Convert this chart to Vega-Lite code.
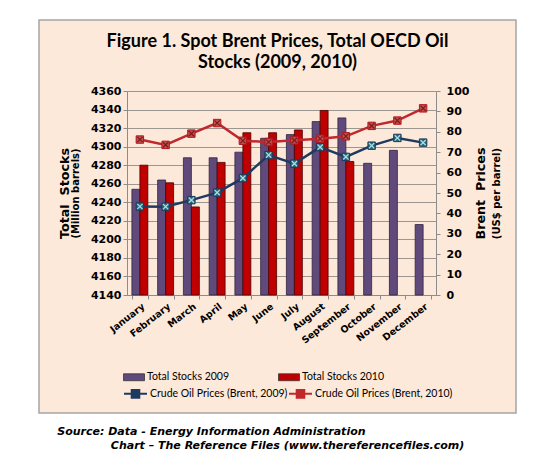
{
  "$schema": "https://vega.github.io/schema/vega-lite/v6.json",
  "padding": {"left": 38, "top": 19, "right": 5, "bottom": 5},
  "background": "white",
  "datasets": {
    "rows": [
      {"month": "January", "year": "2009", "stocks": 4254, "price": 43.4, "stockSeries": "Total Stocks 2009", "priceSeries": "Crude Oil Prices (Brent, 2009)"},
      {"month": "February", "year": "2009", "stocks": 4264, "price": 43.3, "stockSeries": "Total Stocks 2009", "priceSeries": "Crude Oil Prices (Brent, 2009)"},
      {"month": "March", "year": "2009", "stocks": 4288, "price": 46.5, "stockSeries": "Total Stocks 2009", "priceSeries": "Crude Oil Prices (Brent, 2009)"},
      {"month": "April", "year": "2009", "stocks": 4288, "price": 50.2, "stockSeries": "Total Stocks 2009", "priceSeries": "Crude Oil Prices (Brent, 2009)"},
      {"month": "May", "year": "2009", "stocks": 4294, "price": 57.3, "stockSeries": "Total Stocks 2009", "priceSeries": "Crude Oil Prices (Brent, 2009)"},
      {"month": "June", "year": "2009", "stocks": 4309, "price": 68.6, "stockSeries": "Total Stocks 2009", "priceSeries": "Crude Oil Prices (Brent, 2009)"},
      {"month": "July", "year": "2009", "stocks": 4313, "price": 64.4, "stockSeries": "Total Stocks 2009", "priceSeries": "Crude Oil Prices (Brent, 2009)"},
      {"month": "August", "year": "2009", "stocks": 4327, "price": 72.5, "stockSeries": "Total Stocks 2009", "priceSeries": "Crude Oil Prices (Brent, 2009)"},
      {"month": "September", "year": "2009", "stocks": 4331, "price": 67.7, "stockSeries": "Total Stocks 2009", "priceSeries": "Crude Oil Prices (Brent, 2009)"},
      {"month": "October", "year": "2009", "stocks": 4282, "price": 73.2, "stockSeries": "Total Stocks 2009", "priceSeries": "Crude Oil Prices (Brent, 2009)"},
      {"month": "November", "year": "2009", "stocks": 4296, "price": 77.0, "stockSeries": "Total Stocks 2009", "priceSeries": "Crude Oil Prices (Brent, 2009)"},
      {"month": "December", "year": "2009", "stocks": 4216, "price": 74.7, "stockSeries": "Total Stocks 2009", "priceSeries": "Crude Oil Prices (Brent, 2009)"},
      {"month": "January", "year": "2010", "stocks": 4280, "price": 76.2, "stockSeries": "Total Stocks 2010", "priceSeries": "Crude Oil Prices (Brent, 2010)"},
      {"month": "February", "year": "2010", "stocks": 4261, "price": 73.6, "stockSeries": "Total Stocks 2010", "priceSeries": "Crude Oil Prices (Brent, 2010)"},
      {"month": "March", "year": "2010", "stocks": 4235, "price": 79.1, "stockSeries": "Total Stocks 2010", "priceSeries": "Crude Oil Prices (Brent, 2010)"},
      {"month": "April", "year": "2010", "stocks": 4283, "price": 84.3, "stockSeries": "Total Stocks 2010", "priceSeries": "Crude Oil Prices (Brent, 2010)"},
      {"month": "May", "year": "2010", "stocks": 4315, "price": 75.6, "stockSeries": "Total Stocks 2010", "priceSeries": "Crude Oil Prices (Brent, 2010)"},
      {"month": "June", "year": "2010", "stocks": 4315, "price": 75.0, "stockSeries": "Total Stocks 2010", "priceSeries": "Crude Oil Prices (Brent, 2010)"},
      {"month": "July", "year": "2010", "stocks": 4318, "price": 75.8, "stockSeries": "Total Stocks 2010", "priceSeries": "Crude Oil Prices (Brent, 2010)"},
      {"month": "August", "year": "2010", "stocks": 4339, "price": 76.6, "stockSeries": "Total Stocks 2010", "priceSeries": "Crude Oil Prices (Brent, 2010)"},
      {"month": "September", "year": "2010", "stocks": 4284, "price": 77.8, "stockSeries": "Total Stocks 2010", "priceSeries": "Crude Oil Prices (Brent, 2010)"},
      {"month": "October", "year": "2010", "stocks": null, "price": 82.9, "stockSeries": "Total Stocks 2010", "priceSeries": "Crude Oil Prices (Brent, 2010)"},
      {"month": "November", "year": "2010", "stocks": null, "price": 85.5, "stockSeries": "Total Stocks 2010", "priceSeries": "Crude Oil Prices (Brent, 2010)"},
      {"month": "December", "year": "2010", "stocks": null, "price": 91.5, "stockSeries": "Total Stocks 2010", "priceSeries": "Crude Oil Prices (Brent, 2010)"}
    ]
  },
  "title": {
    "text": ["Source:  Data - Energy Information Administration", "\u200d\u00a0\u00a0\u00a0\u00a0\u00a0\u00a0\u00a0\u00a0\u00a0\u00a0\u00a0\u00a0\u00a0\u00a0Chart \u2013 The Reference Files (www.thereferencefiles.com)"],
    "orient": "bottom", "anchor": "start", "font": "DejaVu Sans", "fontStyle": "italic", "fontWeight": "bold",
    "fontSize": 11, "lineHeight": 14, "dx": 19, "offset": 12, "color": "black"
  },
  "vconcat": [
    {
      "width": 477,
      "height": 393,
      "data": {"name": "rows"},
      "title": {
        "text": ["Figure 1. Spot Brent Prices, Total OECD Oil", "Stocks (2009, 2010)"],
        "font": "Lato", "fontSize": 18, "fontWeight": "bold", "lineHeight": 21,
        "anchor": "middle", "offset": -52, "color": "black"
      },
      "encoding": {
        "x": {
          "field": "month", "type": "nominal",
          "sort": ["January","February","March","April","May","June","July","August","September","October","November","December"],
          "scale": {"domain": ["January","February","March","April","May","June","July","August","September","October","November","December"], "range": [88, 397], "paddingInner": 0.38, "paddingOuter": 0.19},
          "axis": {
            "orient": "bottom", "offset": -118, "title": null, "labelAngle": -38,
            "labelFont": "DejaVu Sans", "labelFontWeight": "bold", "labelFontSize": 9.5, "labelColor": "black",
            "tickBand": "extent", "tickSize": 4, "tickColor": "#8c8c8c", "domainColor": "#8c8c8c",
            "grid": false, "labelPadding": 2
          }
        }
      },
      "layer": [
        {
          "transform": [{"filter": "datum.year == '2009' && isValid(datum.stocks)"}],
          "mark": {"type": "bar", "stroke": "#2e2440", "strokeWidth": 0.8},
          "encoding": {
            "xOffset": {"field": "year", "type": "nominal", "scale": {"domain": ["2009", "2010"], "paddingInner": 0, "paddingOuter": 0}},
            "y": {
              "field": "stocks", "type": "quantitative",
              "scale": {"domain": [4140, 4360], "range": [275, 71], "zero": false, "nice": false},
              "axis": {
                "orient": "left", "offset": -88, "format": "d",
                "values": [4140,4160,4180,4200,4220,4240,4260,4280,4300,4320,4340,4360],
                "title": "Total\u00a0 Stocks", "titleFont": "DejaVu Sans", "titleFontSize": 12.7, "titleFontWeight": "bold", "titleColor": "black", "titlePadding": 19,
                "labelFont": "DejaVu Sans", "labelFontSize": 11, "labelFontWeight": "bold", "labelColor": "black",
                "tickSize": 4, "labelPadding": 2, "grid": true, "gridColor": "#9c9590", "gridWidth": 1,
                "domainColor": "#8c8c8c", "tickColor": "#8c8c8c"
              }
            },
            "y2": {"datum": 4140},
            "fill": {
              "field": "stockSeries", "type": "nominal",
              "scale": {"domain": ["Total Stocks 2009", "Total Stocks 2010"], "range": ["#604a7b", "#c00000"]},
              "legend": {
                "title": null, "orient": "none", "legendX": 84, "legendY": 346, "direction": "horizontal", "columns": 2, "columnPadding": 46,
                "symbolType": "M-1,-0.33L1,-0.33L1,0.33L-1,0.33Z", "symbolSize": 441, "symbolStrokeWidth": 0.8, "symbolStrokeColor": "#333333",
                "labelFont": "Lato", "labelFontSize": 10.5, "labelColor": "black", "labelOffset": 2
              }
            }
          }
        },
        {
          "transform": [{"filter": "datum.year == '2010' && isValid(datum.stocks)"}],
          "mark": {"type": "bar", "stroke": "#4a0000", "strokeWidth": 0.8},
          "encoding": {
            "xOffset": {"field": "year", "type": "nominal", "scale": {"domain": ["2009", "2010"], "paddingInner": 0, "paddingOuter": 0}},
            "y": {
              "field": "stocks", "type": "quantitative",
              "scale": {"domain": [4140, 4360], "range": [275, 71], "zero": false, "nice": false},
              "axis": {
                "orient": "left", "offset": -88, "labels": false, "ticks": false, "domain": false, "grid": false,
                "title": "(Million barrels)", "titleFont": "DejaVu Sans", "titleFontSize": 10, "titleFontWeight": "bold", "titleColor": "black", "titlePadding": 47
              }
            },
            "y2": {"datum": 4140},
            "fill": {
              "field": "stockSeries", "type": "nominal",
              "scale": {"domain": ["Total Stocks 2009", "Total Stocks 2010"], "range": ["#604a7b", "#c00000"]},
              "legend": {
                "title": null, "orient": "none", "legendX": 84, "legendY": 346, "direction": "horizontal", "columns": 2, "columnPadding": 46,
                "symbolType": "M-1,-0.33L1,-0.33L1,0.33L-1,0.33Z", "symbolSize": 441, "symbolStrokeWidth": 0.8, "symbolStrokeColor": "#333333",
                "labelFont": "Lato", "labelFontSize": 10.5, "labelColor": "black", "labelOffset": 2
              }
            }
          }
        },
        {
          "transform": [{"filter": "datum.year == '2009'"}],
          "mark": {"type": "line", "strokeWidth": 2.5},
          "encoding": {
            "y": {
              "field": "price", "type": "quantitative",
              "scale": {"domain": [0, 100], "range": [275, 71], "zero": false, "nice": false},
              "axis": {
                "orient": "right", "offset": -80, "values": [0,10,20,30,40,50,60,70,80,90,100],
                "title": "Brent\u00a0 Prices", "titleFont": "DejaVu Sans", "titleFontSize": 12.7, "titleFontWeight": "bold", "titleColor": "black",
                "titleAngle": 270, "titleBaseline": "top", "titlePadding": 6,
                "labelFont": "DejaVu Sans", "labelFontSize": 11, "labelFontWeight": "bold", "labelColor": "black",
                "tickSize": 4, "labelPadding": 6, "grid": false, "domainColor": "#8c8c8c", "tickColor": "#8c8c8c"
              }
            },
            "stroke": {
              "field": "priceSeries", "type": "nominal",
              "scale": {"domain": ["Crude Oil Prices (Brent, 2009)", "Crude Oil Prices (Brent, 2010)"], "range": ["#1f3a5f", "#c0282d"]},
              "legend": {
                "title": null, "orient": "none", "legendX": 84, "legendY": 361, "direction": "horizontal", "columns": 2, "columnPadding": -10,
                "symbolType": "M-1,0L1,0M-0.33,-0.33L0.33,-0.33L0.33,0.33L-0.33,0.33Z", "symbolSize": 529, "symbolStrokeWidth": 2,
                "labelFont": "Lato", "labelFontSize": 10.5, "labelColor": "black", "labelOffset": 2,
                "encode": {"symbols": {"update": {"fill": {"scale": "stroke", "field": "value"}}}}
              }
            }
          }
        },
        {
          "transform": [{"filter": "datum.year == '2010'"}],
          "mark": {"type": "line", "strokeWidth": 2.5},
          "encoding": {
            "y": {
              "field": "price", "type": "quantitative",
              "scale": {"domain": [0, 100], "range": [275, 71], "zero": false, "nice": false},
              "axis": {
                "orient": "right", "offset": -80, "labels": false, "ticks": false, "domain": false, "grid": false,
                "title": "(US$ per barrel)", "titleFont": "DejaVu Sans", "titleFontSize": 10, "titleFontWeight": "bold", "titleColor": "black",
                "titleAngle": 270, "titleBaseline": "top", "titlePadding": 55
              }
            },
            "stroke": {
              "field": "priceSeries", "type": "nominal",
              "scale": {"domain": ["Crude Oil Prices (Brent, 2009)", "Crude Oil Prices (Brent, 2010)"], "range": ["#1f3a5f", "#c0282d"]},
              "legend": {
                "title": null, "orient": "none", "legendX": 84, "legendY": 361, "direction": "horizontal", "columns": 2, "columnPadding": -10,
                "symbolType": "M-1,0L1,0M-0.33,-0.33L0.33,-0.33L0.33,0.33L-0.33,0.33Z", "symbolSize": 529, "symbolStrokeWidth": 2,
                "labelFont": "Lato", "labelFontSize": 10.5, "labelColor": "black", "labelOffset": 2,
                "encode": {"symbols": {"update": {"fill": {"scale": "stroke", "field": "value"}}}}
              }
            }
          }
        },
        {
          "transform": [{"filter": "datum.year == '2009'"}],
          "mark": {"type": "point", "shape": "square", "size": 55, "filled": true, "fill": "#2b6776", "stroke": "#1f3a5f", "strokeWidth": 1, "opacity": 1},
          "encoding": {
            "y": {"field": "price", "type": "quantitative", "scale": {"domain": [0, 100], "range": [275, 71], "zero": false, "nice": false}, "axis": null}
          }
        },
        {
          "transform": [{"filter": "datum.year == '2009'"}],
          "mark": {"type": "point", "shape": "M-1,-1L1,1M-1,1L1,-1", "size": 28, "filled": false, "stroke": "#a8e0ea", "strokeWidth": 1.2, "opacity": 1},
          "encoding": {
            "y": {"field": "price", "type": "quantitative", "scale": {"domain": [0, 100], "range": [275, 71], "zero": false, "nice": false}, "axis": null}
          }
        },
        {
          "transform": [{"filter": "datum.year == '2010'"}],
          "mark": {"type": "point", "shape": "square", "size": 55, "filled": true, "fill": "#c0504d", "stroke": "#b0171f", "strokeWidth": 1, "opacity": 1},
          "encoding": {
            "y": {"field": "price", "type": "quantitative", "scale": {"domain": [0, 100], "range": [275, 71], "zero": false, "nice": false}, "axis": null}
          }
        },
        {
          "transform": [{"filter": "datum.year == '2010'"}],
          "mark": {"type": "point", "shape": "M-1,-1L1,1M-1,1L1,-1", "size": 28, "filled": false, "stroke": "#7f1a1a", "strokeWidth": 1.2, "opacity": 1},
          "encoding": {
            "y": {"field": "price", "type": "quantitative", "scale": {"domain": [0, 100], "range": [275, 71], "zero": false, "nice": false}, "axis": null}
          }
        }
      ],
      "resolve": {"scale": {"y": "independent"}, "axis": {"y": "independent"}}
    }
  ],
  "config": {
    "view": {"fill": "#fde9d9", "stroke": "#a5a5a5", "strokeWidth": 1.5}
  }
}
